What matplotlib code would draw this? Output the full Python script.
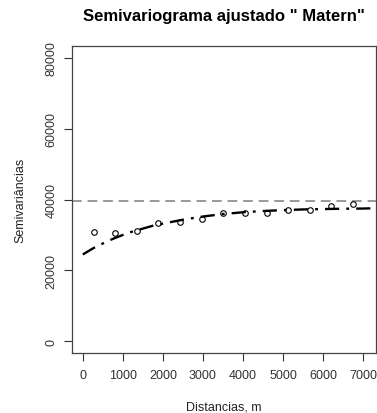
import matplotlib.pyplot as plt
import numpy as np

plt.rcParams['font.family'] = ['Liberation Sans', 'DejaVu Sans']

# empirical semivariogram (lag distance, semivariance)
lags = [270, 810, 1350, 1890, 2430, 2970, 3510, 4050, 4590, 5130, 5670, 6210, 6750]
gamma = [30900, 30450, 31150, 33250, 33700, 34600, 36100, 36200, 36200, 37150, 37150, 38150, 38850]

# fitted Matern model read at a few distances
model_h = [0, 250, 500, 750, 1000, 1250, 1500, 1750, 2000, 2500, 3000, 3500,
           4000, 4500, 5000, 5500, 6000, 6500, 7000, 7200]
model_g = [24500, 26200, 27600, 28900, 30000, 31000, 31800, 32600, 33200, 34300, 35200, 35900,
           36400, 36750, 37000, 37200, 37300, 37400, 37450, 37500]

sill = 39600

xticks = [0, 1000, 2000, 3000, 4000, 5000, 6000, 7000]
yticks = [0, 20000, 40000, 60000, 80000]

fig = plt.figure(figsize=(3.77, 4.14), dpi=100)
ax = fig.add_axes([0.190, 0.1457, 0.807, 0.74])

ax.axhline(sill, color='#999999', lw=1.4, ls=(0, (5, 3)))
ax.plot(model_h, model_g, color='black', lw=1.7, ls=(0, (6, 3, 1.2, 3)))
ax.plot(lags, gamma, 'o', mfc='none', mec='black', ms=4, mew=0.8)

ax.set_xlim(-280, 7320)
ax.set_ylim(-3200, 83200)
ax.set_xticks(xticks)
ax.set_yticks(yticks)
ax.set_yticklabels([str(v) for v in yticks], rotation=90, va='center')
ax.tick_params(axis='both', labelsize=9, length=6, width=0.8, colors='#333333')
ax.tick_params(axis='x', pad=6)
ax.tick_params(axis='y', pad=4)
for s in ax.spines.values():
    s.set_color('#444444')
    s.set_linewidth(0.9)

ax.set_xlabel('Distancias, m', fontsize=9, color='#222222', labelpad=14)
ax.set_ylabel('Semivariâncias', fontsize=9, color='#222222', labelpad=14)
ax.set_title('Semivariograma ajustado " Matern"', fontsize=12, fontweight='bold', pad=19)

fig.savefig('out.png', dpi=100)
